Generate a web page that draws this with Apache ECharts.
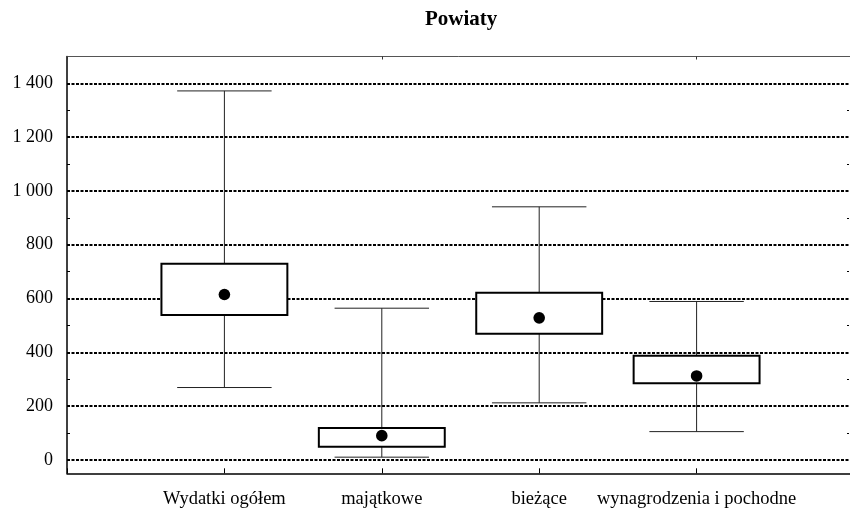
<!DOCTYPE html>
<html>
<head>
<meta charset="utf-8">
<script src="https://cdn.jsdelivr.net/npm/echarts@6/dist/echarts.min.js"></script>
<style>
  html, body { margin: 0; padding: 0; background: #fff; }
  #chart { width: 850px; height: 512px; }
</style>
</head>
<body>
<div id="chart"></div>
<script>
// dane
var categories = ['Wydatki ogółem', 'majątkowe', 'bieżące', 'wynagrodzenia i pochodne']
var whiskerLow = [269, 10, 212, 105]
var boxLow = [539, 49, 469, 285]
var dotValue = [615, 90, 528, 312]
var boxHigh = [729, 118, 621, 387]
var whiskerHigh = [1372, 564, 941, 589]
var majorTicks = [0, 200, 400, 600, 800, 1000, 1200, 1400]
var minorTicks = [100, 300, 500, 700, 900, 1100, 1300]

var font = 'Liberation Serif, Times New Roman, serif'
var axisCats = [''].concat(categories).concat([''])

var boxData = categories.map(function (c, i) {
  return [i + 1, whiskerLow[i], boxLow[i], dotValue[i], boxHigh[i], whiskerHigh[i]]
})

function renderBox (params, api) {
  var x = api.value(0)
  var step = api.coord([1, 0])[0] - api.coord([0, 0])[0]
  var cx = api.coord([x, 0])[0]
  var yMin = api.coord([x, api.value(1)])[1]
  var yQ1 = api.coord([x, api.value(2)])[1]
  var yDot = api.coord([x, api.value(3)])[1]
  var yQ3 = api.coord([x, api.value(4)])[1]
  var yMax = api.coord([x, api.value(5)])[1]
  var bw = step * 0.4
  var ww = step * 0.3
  var thin = { stroke: '#222', lineWidth: 1 }
  return {
    type: 'group',
    children: [
      { type: 'line', shape: { x1: cx, y1: yMax, x2: cx, y2: yQ3 }, style: thin },
      { type: 'line', shape: { x1: cx, y1: yQ1, x2: cx, y2: yMin }, style: thin },
      { type: 'line', shape: { x1: cx - ww, y1: yMax, x2: cx + ww, y2: yMax }, style: thin },
      { type: 'line', shape: { x1: cx - ww, y1: yMin, x2: cx + ww, y2: yMin }, style: thin },
      { type: 'rect', shape: { x: cx - bw, y: yQ3, width: bw * 2, height: yQ1 - yQ3 }, style: { fill: '#fff', stroke: '#000', lineWidth: 2 } },
      { type: 'circle', shape: { cx: cx, cy: yDot, r: 5.8 }, style: { fill: '#000' } }
    ]
  }
}

var chart = echarts.init(document.getElementById('chart'))
chart.setOption({
  animation: false,
  backgroundColor: '#fff',
  title: {
    text: 'Powiaty',
    left: 420,
    top: 4,
    textStyle: { fontFamily: font, fontWeight: 'bold', fontSize: 21, color: '#000' }
  },
  grid: { left: 67, top: 56.5, width: 787, height: 416.8, outerBoundsMode: 'none' },
  xAxis: [
    {
      type: 'category',
      data: axisCats,
      boundaryGap: false,
      axisLine: { onZero: false, lineStyle: { color: '#000', width: 1.5 } },
      axisTick: { inside: true, length: 5, lineStyle: { color: '#000' } },
      axisLabel: { fontFamily: font, fontSize: 18.5, color: '#000', margin: 16, interval: 0 },
      splitLine: { show: false }
    },
    {
      type: 'category',
      position: 'top',
      data: axisCats,
      boundaryGap: false,
      axisLine: { onZero: false, lineStyle: { color: '#555', width: 1 } },
      axisTick: { inside: true, length: 3, lineStyle: { color: '#333' } },
      axisLabel: { show: false },
      splitLine: { show: false }
    }
  ],
  yAxis: [
    {
      type: 'value',
      position: 'left',
      min: -50,
      max: 1500,
      axisLine: { show: true, lineStyle: { color: '#000', width: 1.5 } },
      axisTick: { show: false, customValues: majorTicks },
      axisLabel: {
        customValues: majorTicks,
        fontFamily: font,
        fontSize: 18,
        color: '#000',
        margin: 14,
        formatter: function (v) {
          return String(v).replace(/\B(?=(\d{3})+(?!\d))/g, ' ')
        }
      },
      splitLine: { show: true, lineStyle: { color: '#000', width: 1.8, type: [3, 1.5] } }
    },
    {
      type: 'value',
      position: 'left',
      min: -50,
      max: 1500,
      axisLine: { show: false },
      axisTick: { show: true, inside: true, length: 3, customValues: minorTicks, lineStyle: { color: '#000' } },
      axisLabel: { show: false },
      splitLine: { show: false }
    },
    {
      type: 'value',
      position: 'right',
      offset: -5,
      min: -50,
      max: 1500,
      axisLine: { show: false },
      axisTick: { show: true, inside: true, length: 2, customValues: minorTicks, lineStyle: { color: '#000' } },
      axisLabel: { show: false },
      splitLine: { show: false }
    }
  ],
  series: [
    {
      type: 'custom',
      renderItem: renderBox,
      data: boxData,
      encode: { x: 0, y: [1, 2, 3, 4, 5] },
      z: 5
    }
  ]
})
</script>
</body>
</html>
